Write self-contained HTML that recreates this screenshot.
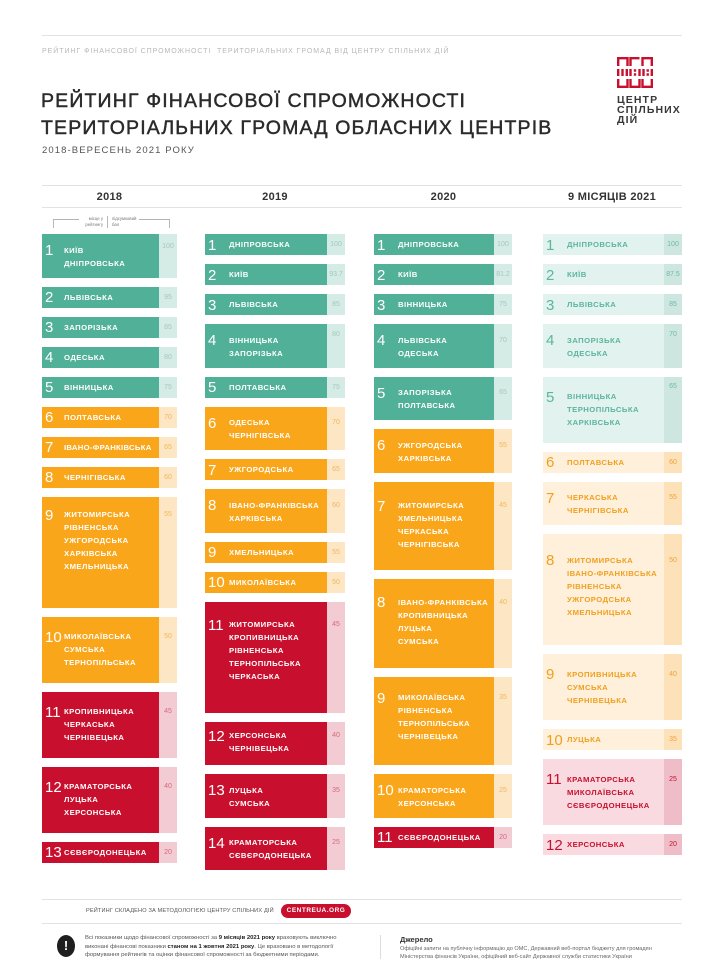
<!DOCTYPE html>
<html lang="uk">
<head>
<meta charset="utf-8">
<style>
*{box-sizing:border-box}
html,body{margin:0;padding:0}
body{width:720px;height:975px;background:#fff;position:relative;overflow:hidden;font-family:"Liberation Sans","DejaVu Sans",sans-serif;color:#2a2a2a}
.abs{position:absolute}
.hl{position:absolute;left:42px;width:640px;height:1px;background:#e2e2e2}
.toptxt{left:42px;top:47px;font-size:7px;line-height:10px;letter-spacing:.95px;color:#b8b8b8;white-space:nowrap}
.title{left:41px;top:88px;font-size:19.5px;line-height:26.5px;letter-spacing:1.15px;color:#2a2a2a;white-space:nowrap;-webkit-text-stroke:0.45px #2a2a2a}
.sub{left:42px;top:145px;font-size:9.5px;line-height:12px;letter-spacing:1.1px;color:#555;white-space:nowrap}
.logo-t{left:617px;top:96px;font-size:10.5px;line-height:9.8px;font-weight:bold;letter-spacing:1.1px;color:#383838;white-space:nowrap}
.yh{top:189.5px;font-size:11px;line-height:14px;font-weight:bold;color:#333;text-align:center;width:140px;letter-spacing:.3px;white-space:nowrap}
.col{position:absolute;top:234px;display:flex;flex-direction:column;gap:9px}
.b{position:relative;flex:none}
.h1{height:21px;--o:10.5px}
.h2{height:43.5px;--o:16px}
.h3{height:66px;--o:20px}
.h4{height:88.5px;--o:24px}
.h5{height:111px;--o:22px}
.n{position:absolute;left:3px;top:calc(var(--o) - 8px);font-size:15px;line-height:18px;font-style:normal;white-space:nowrap}
.nm{position:absolute;left:24px;top:calc(var(--o) - 6.5px);font-size:7.7px;line-height:13px;font-weight:bold;letter-spacing:.45px;white-space:nowrap}
.s{position:absolute;right:0;top:0;bottom:0;width:18px}
.s span{position:absolute;left:0;right:0;text-align:center;top:calc(var(--so, var(--o)) - 6.5px);font-size:7px;line-height:13px;white-space:nowrap}
.c18{left:42px}.c18 .b{width:135px}.c18 .nm{left:22px}
.c19{left:205px}.c19 .b{width:140px}
.c20{left:374px}.c20 .b{width:138px}
.c21{left:543px}.c21 .b{width:139px}
.t{background:#51b098;color:#fff}.t .s{background:#d5ebe5;color:#a3c9bf}
.o{background:#faa61a;color:#fff}.o .s{background:#fde6c4;color:#f2b65a}
.r{background:#c8102e;color:#fff}.r .s{background:#f3ccd3;color:#d5697b}
.pt{background:#e2f2ee;color:#5bb5a0}.pt .s{background:#cde7e0;color:#6cbaa7}
.po{background:#fef0da;color:#f0a020}.po .s{background:#fde2b9;color:#eea23a}
.pr{background:#f8dae0;color:#c8102e}.pr .s{background:#efbdc7;color:#c8102e}
.foot1{left:86px;top:907px;font-size:5.6px;line-height:8px;letter-spacing:.15px;color:#555;white-space:nowrap}
.pill{left:281px;top:904px;width:70px;height:14px;border-radius:7px;background:#c8102e;color:#fff;font-size:6.5px;font-weight:bold;line-height:14px;text-align:center;letter-spacing:.5px}
.icon{left:57px;top:935px;width:18px;height:22px;border-radius:50%;background:#1e1e1e;color:#fff;font-weight:bold;font-size:13px;line-height:22px;text-align:center}
.para{left:85px;top:934px;font-size:5.9px;line-height:8.5px;color:#555;white-space:nowrap}
.para b{color:#222}
.vdiv{left:380px;top:935px;width:1px;height:24px;background:#dcdcdc}
.src-h{left:400px;top:935px;font-size:7.5px;line-height:9px;font-weight:bold;color:#333}
.src{left:400px;top:946px;font-size:5.6px;line-height:7.5px;color:#666;white-space:nowrap}
</style>
</head>
<body>

<div class="hl" style="top:35px"></div>
<div class="abs toptxt">РЕЙТИНГ ФІНАНСОВОЇ СПРОМОЖНОСТІ&nbsp; ТЕРИТОРІАЛЬНИХ ГРОМАД ВІД ЦЕНТРУ СПІЛЬНИХ ДІЙ</div>
<div class="abs title">РЕЙТИНГ ФІНАНСОВОЇ СПРОМОЖНОСТІ<br>ТЕРИТОРІАЛЬНИХ ГРОМАД ОБЛАСНИХ ЦЕНТРІВ</div>
<div class="abs sub">2018-ВЕРЕСЕНЬ 2021 РОКУ</div>

<svg class="abs" style="left:617px;top:57px" width="36" height="31" viewBox="0 0 36 31" fill="none" stroke="#c8102e" stroke-width="2.4">
<path d="M1.2 9V1.2H10.5V9M13.5 9V1.2H22.5M25.5 9V1.2H34.8V9"/>
<path d="M1.2 12V19M5.5 12V19M9.8 12V19M13.5 12V19M22.5 12V19M26.5 12V19M34.8 12V19"/>
<path d="M16.8 13.5h2.4M16.8 17.5h2.4M29.5 13.5h2.4M29.5 17.5h2.4"/>
<path d="M1.2 22V29.8H10.5V22M13.5 22V29.8H22.5V22M25.5 22V29.8H34.8V22"/>
</svg>
<div class="abs logo-t">ЦЕНТР<br>СПІЛЬНИХ<br>ДІЙ</div>

<div class="hl" style="top:185px"></div>
<div class="hl" style="top:207px"></div>
<div class="abs yh" style="left:39.5px">2018</div>
<div class="abs yh" style="left:205px">2019</div>
<div class="abs yh" style="left:373.5px">2020</div>
<div class="abs yh" style="left:542px">9 МІСЯЦІВ 2021</div>

<svg class="abs" style="left:50px;top:214px" width="125" height="16" viewBox="0 0 125 16">
<g stroke="#9a9a9a" stroke-width="0.7" fill="none">
<path d="M3.5 14V5.5H29M89 5.5H119.5V14"/>
<path d="M57.5 2V14"/>
</g>
<g font-family="Liberation Sans, sans-serif" font-size="4.3" fill="#777">
<text x="53" y="6" text-anchor="end">місце у</text>
<text x="53" y="12" text-anchor="end">рейтингу</text>
<text x="62" y="6">підсумковий</text>
<text x="62" y="12">бал</text>
</g>
</svg>

<!-- 2018 -->
<div class="col c18">
<div class="b t h2" style="--so:12px"><i class="n">1</i><div class="nm">КИЇВ<br>ДНІПРОВСЬКА</div><div class="s"><span>100</span></div></div>
<div class="b t h1"><i class="n">2</i><div class="nm">ЛЬВІВСЬКА</div><div class="s"><span>95</span></div></div>
<div class="b t h1"><i class="n">3</i><div class="nm">ЗАПОРІЗЬКА</div><div class="s"><span>85</span></div></div>
<div class="b t h1"><i class="n">4</i><div class="nm">ОДЕСЬКА</div><div class="s"><span>80</span></div></div>
<div class="b t h1"><i class="n">5</i><div class="nm">ВІННИЦЬКА</div><div class="s"><span>75</span></div></div>
<div class="b o h1"><i class="n">6</i><div class="nm">ПОЛТАВСЬКА</div><div class="s"><span>70</span></div></div>
<div class="b o h1"><i class="n">7</i><div class="nm" style="letter-spacing:.3px">ІВАНО-ФРАНКІВСЬКА</div><div class="s"><span>65</span></div></div>
<div class="b o h1"><i class="n">8</i><div class="nm">ЧЕРНІГІВСЬКА</div><div class="s"><span>60</span></div></div>
<div class="b o h5" style="--o:18px"><i class="n">9</i><div class="nm">ЖИТОМИРСЬКА<br>РІВНЕНСЬКА<br>УЖГОРОДСЬКА<br>ХАРКІВСЬКА<br>ХМЕЛЬНИЦЬКА</div><div class="s"><span>55</span></div></div>
<div class="b o h3"><i class="n">10</i><div class="nm">МИКОЛАЇВСЬКА<br>СУМСЬКА<br>ТЕРНОПІЛЬСЬКА</div><div class="s"><span>50</span></div></div>
<div class="b r h3"><i class="n">11</i><div class="nm">КРОПИВНИЦЬКА<br>ЧЕРКАСЬКА<br>ЧЕРНІВЕЦЬКА</div><div class="s"><span>45</span></div></div>
<div class="b r h3"><i class="n">12</i><div class="nm">КРАМАТОРСЬКА<br>ЛУЦЬКА<br>ХЕРСОНСЬКА</div><div class="s"><span>40</span></div></div>
<div class="b r h1"><i class="n">13</i><div class="nm">СЄВЄРОДОНЕЦЬКА</div><div class="s"><span>20</span></div></div>
</div>

<!-- 2019 -->
<div class="col c19">
<div class="b t h1"><i class="n">1</i><div class="nm">ДНІПРОВСЬКА</div><div class="s"><span>100</span></div></div>
<div class="b t h1"><i class="n">2</i><div class="nm">КИЇВ</div><div class="s"><span>93.7</span></div></div>
<div class="b t h1"><i class="n">3</i><div class="nm">ЛЬВІВСЬКА</div><div class="s"><span>85</span></div></div>
<div class="b t h2" style="--so:10px"><i class="n">4</i><div class="nm">ВІННИЦЬКА<br>ЗАПОРІЗЬКА</div><div class="s"><span>80</span></div></div>
<div class="b t h1"><i class="n">5</i><div class="nm">ПОЛТАВСЬКА</div><div class="s"><span>75</span></div></div>
<div class="b o h2"><i class="n">6</i><div class="nm">ОДЕСЬКА<br>ЧЕРНІГІВСЬКА</div><div class="s"><span>70</span></div></div>
<div class="b o h1"><i class="n">7</i><div class="nm">УЖГОРОДСЬКА</div><div class="s"><span>65</span></div></div>
<div class="b o h2"><i class="n">8</i><div class="nm">ІВАНО-ФРАНКІВСЬКА<br>ХАРКІВСЬКА</div><div class="s"><span>60</span></div></div>
<div class="b o h1"><i class="n">9</i><div class="nm">ХМЕЛЬНИЦЬКА</div><div class="s"><span>55</span></div></div>
<div class="b o h1"><i class="n">10</i><div class="nm">МИКОЛАЇВСЬКА</div><div class="s"><span>50</span></div></div>
<div class="b r h5" style="--o:23px"><i class="n">11</i><div class="nm">ЖИТОМИРСЬКА<br>КРОПИВНИЦЬКА<br>РІВНЕНСЬКА<br>ТЕРНОПІЛЬСЬКА<br>ЧЕРКАСЬКА</div><div class="s"><span>45</span></div></div>
<div class="b r h2" style="--o:14px"><i class="n">12</i><div class="nm">ХЕРСОНСЬКА<br>ЧЕРНІВЕЦЬКА</div><div class="s"><span>40</span></div></div>
<div class="b r h2"><i class="n">13</i><div class="nm">ЛУЦЬКА<br>СУМСЬКА</div><div class="s"><span>35</span></div></div>
<div class="b r h2"><i class="n">14</i><div class="nm">КРАМАТОРСЬКА<br>СЄВЄРОДОНЕЦЬКА</div><div class="s"><span>25</span></div></div>
</div>

<!-- 2020 -->
<div class="col c20">
<div class="b t h1"><i class="n">1</i><div class="nm">ДНІПРОВСЬКА</div><div class="s"><span>100</span></div></div>
<div class="b t h1"><i class="n">2</i><div class="nm">КИЇВ</div><div class="s"><span>81.2</span></div></div>
<div class="b t h1"><i class="n">3</i><div class="nm">ВІННИЦЬКА</div><div class="s"><span>75</span></div></div>
<div class="b t h2"><i class="n">4</i><div class="nm">ЛЬВІВСЬКА<br>ОДЕСЬКА</div><div class="s"><span>70</span></div></div>
<div class="b t h2"><i class="n">5</i><div class="nm">ЗАПОРІЗЬКА<br>ПОЛТАВСЬКА</div><div class="s"><span>65</span></div></div>
<div class="b o h2"><i class="n">6</i><div class="nm">УЖГОРОДСЬКА<br>ХАРКІВСЬКА</div><div class="s"><span>55</span></div></div>
<div class="b o h4"><i class="n">7</i><div class="nm">ЖИТОМИРСЬКА<br>ХМЕЛЬНИЦЬКА<br>ЧЕРКАСЬКА<br>ЧЕРНІГІВСЬКА</div><div class="s"><span>45</span></div></div>
<div class="b o h4" style="--o:23px"><i class="n">8</i><div class="nm">ІВАНО-ФРАНКІВСЬКА<br>КРОПИВНИЦЬКА<br>ЛУЦЬКА<br>СУМСЬКА</div><div class="s"><span>40</span></div></div>
<div class="b o h4" style="--o:21px"><i class="n">9</i><div class="nm">МИКОЛАЇВСЬКА<br>РІВНЕНСЬКА<br>ТЕРНОПІЛЬСЬКА<br>ЧЕРНІВЕЦЬКА</div><div class="s"><span>35</span></div></div>
<div class="b o h2"><i class="n">10</i><div class="nm">КРАМАТОРСЬКА<br>ХЕРСОНСЬКА</div><div class="s"><span>25</span></div></div>
<div class="b r h1"><i class="n">11</i><div class="nm">СЄВЄРОДОНЕЦЬКА</div><div class="s"><span>20</span></div></div>
</div>

<!-- 2021 -->
<div class="col c21">
<div class="b pt h1"><i class="n">1</i><div class="nm">ДНІПРОВСЬКА</div><div class="s"><span>100</span></div></div>
<div class="b pt h1"><i class="n">2</i><div class="nm">КИЇВ</div><div class="s"><span>87.5</span></div></div>
<div class="b pt h1"><i class="n">3</i><div class="nm">ЛЬВІВСЬКА</div><div class="s"><span>85</span></div></div>
<div class="b pt h2" style="--so:10.5px"><i class="n">4</i><div class="nm">ЗАПОРІЗЬКА<br>ОДЕСЬКА</div><div class="s"><span>70</span></div></div>
<div class="b pt h3" style="--so:10px"><i class="n">5</i><div class="nm">ВІННИЦЬКА<br>ТЕРНОПІЛЬСЬКА<br>ХАРКІВСЬКА</div><div class="s"><span>65</span></div></div>
<div class="b po h1"><i class="n">6</i><div class="nm">ПОЛТАВСЬКА</div><div class="s"><span>60</span></div></div>
<div class="b po h2"><i class="n">7</i><div class="nm">ЧЕРКАСЬКА<br>ЧЕРНІГІВСЬКА</div><div class="s"><span>55</span></div></div>
<div class="b po h5" style="--o:26px"><i class="n">8</i><div class="nm">ЖИТОМИРСЬКА<br>ІВАНО-ФРАНКІВСЬКА<br>РІВНЕНСЬКА<br>УЖГОРОДСЬКА<br>ХМЕЛЬНИЦЬКА</div><div class="s"><span>50</span></div></div>
<div class="b po h3"><i class="n">9</i><div class="nm">КРОПИВНИЦЬКА<br>СУМСЬКА<br>ЧЕРНІВЕЦЬКА</div><div class="s"><span>40</span></div></div>
<div class="b po h1"><i class="n">10</i><div class="nm">ЛУЦЬКА</div><div class="s"><span>35</span></div></div>
<div class="b pr h3"><i class="n">11</i><div class="nm">КРАМАТОРСЬКА<br>МИКОЛАЇВСЬКА<br>СЄВЄРОДОНЕЦЬКА</div><div class="s"><span>25</span></div></div>
<div class="b pr h1"><i class="n">12</i><div class="nm">ХЕРСОНСЬКА</div><div class="s"><span>20</span></div></div>
</div>

<!-- footer -->
<div class="hl" style="top:899px"></div>
<div class="abs foot1">РЕЙТИНГ СКЛАДЕНО ЗА МЕТОДОЛОГІЄЮ ЦЕНТРУ СПІЛЬНИХ ДІЙ</div>
<div class="abs pill">CENTREUA.ORG</div>
<div class="hl" style="top:923px"></div>

<div class="abs icon">!</div>
<div class="abs para">Всі показники щодо фінансової спроможності за <b>9 місяців 2021 року</b> враховують виключно<br>виконані фінансові показники <b>станом на 1 жовтня 2021 року</b>. Це враховано в методології<br>формування рейтингів та оцінки фінансової спроможності за бюджетними періодами.</div>
<div class="abs vdiv"></div>
<div class="abs src-h">Джерело</div>
<div class="abs src">Офіційні запити на публічну інформацію до ОМС, Державний веб-портал бюджету для громадян<br>Міністерства фінансів України, офіційний веб-сайт Державної служби статистики України</div>

</body>
</html>
